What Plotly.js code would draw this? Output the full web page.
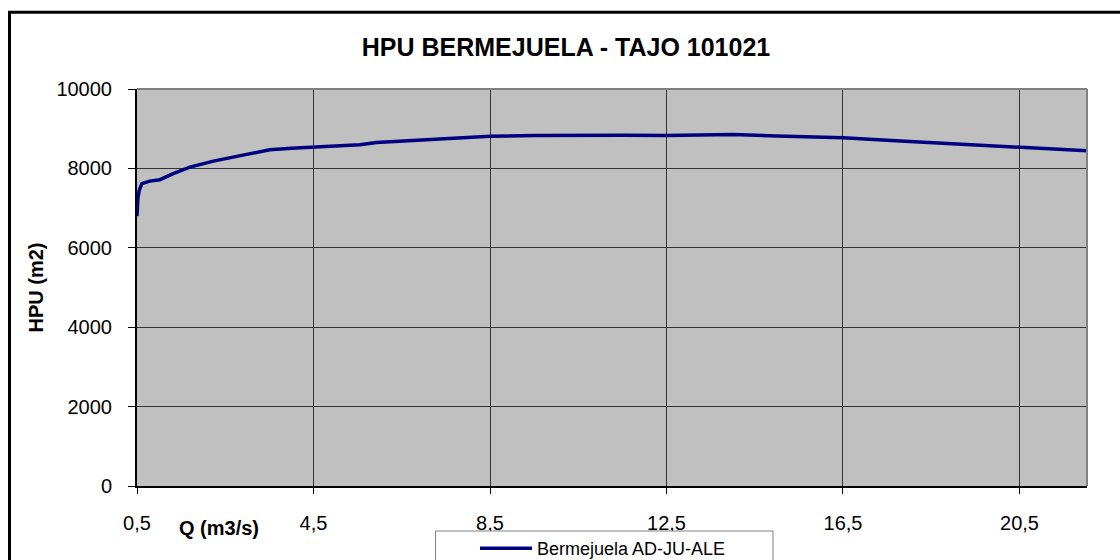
<!DOCTYPE html>
<html>
<head>
<meta charset="utf-8">
<script src="https://cdn.plot.ly/plotly-3.0.1.min.js"></script>
<style>
html,body{margin:0;padding:0;background:#fff;}
#chart{width:1120px;height:560px;}
</style>
</head>
<body>
<div id="chart"></div>
<script>
// Data
const seriesName = "Bermejuela AD-JU-ALE";
const caudal = [0.5, 0.52, 0.55, 0.61, 0.79, 1.02, 1.32, 1.7, 2.23, 2.98, 3.51, 4.0, 4.5, 5.25, 5.55, 5.93, 6.53, 7.51, 8.5, 9.5, 10.5, 11.5, 12.5, 13.5, 14.0, 15.0, 16.5, 17.8, 19.0, 20.5, 22.03];
const hpu = [6800, 7250, 7446, 7615, 7680, 7715, 7866, 8033, 8184, 8352, 8470, 8510, 8536, 8561, 8596, 8654, 8687, 8762, 8810, 8830, 8838, 8835, 8830, 8845, 8855, 8815, 8772, 8690, 8620, 8550, 8445];
const xTickVals = [0.5, 4.5, 8.5, 12.5, 16.5, 20.5];
const xTickText = ["0,5", "4,5", "8,5", "12,5", "16,5", "20,5"];
const yTickVals = [0, 2000, 4000, 6000, 8000, 10000];
const yTickText = ["0", "2000", "4000", "6000", "8000", "10000"];

const FONT = "Liberation Sans, Arial, sans-serif";

const trace = {
  x: caudal, y: hpu, type: "scatter", mode: "lines", name: seriesName,
  line: {color: "#000080", width: 3.5}
};

// pixel -> paper helpers (plot area 137..1087 x, 89..486 y)
const px = v => (v - 137) / 950;
const py = v => (486 - v) / 397;

const layout = {
  width: 1120, height: 560,
  margin: {l: 137, r: 33, t: 89, b: 74, autoexpand: false},
  paper_bgcolor: "#ffffff",
  plot_bgcolor: "#C0C0C0",
  font: {family: FONT, color: "#000"},
  title: {
    text: "<b>HPU BERMEJUELA - TAJO 101021</b>",
    font: {family: FONT, size: 25, color: "#000"},
    xref: "paper", x: px(566), xanchor: "center",
    yref: "container", y: 1 - 47 / 560, yanchor: "middle"
  },
  xaxis: {
    range: [0.5, 22.03], tickmode: "array", tickvals: xTickVals, ticktext: xTickText,
    ticks: "outside", ticklen: 6, tickcolor: "#000", tickwidth: 1,
    tickfont: {family: FONT, size: 20, color: "#000"},
    ticklabelstandoff: 12,
    showgrid: true, gridcolor: "#333333", gridwidth: 1,
    showline: true, linecolor: "#000", linewidth: 2,
    zeroline: false, fixedrange: true
  },
  yaxis: {
    range: [0, 10000], tickmode: "array", tickvals: yTickVals, ticktext: yTickText,
    ticks: "outside", ticklen: 7, tickcolor: "#000", tickwidth: 1,
    tickfont: {family: FONT, size: 20, color: "#000"},
    ticklabelstandoff: 12,
    showgrid: true, gridcolor: "#333333", gridwidth: 1,
    showline: true, linecolor: "#000", linewidth: 2,
    zeroline: false, fixedrange: true,
    title: {text: "<b>HPU (m2)</b>", font: {family: FONT, size: 20, color: "#000"}, standoff: 7}
  },
  showlegend: true,
  legend: {
    x: px(475), xanchor: "left", y: py(530), yanchor: "top",
    bgcolor: "rgba(0,0,0,0)", borderwidth: 0,
    font: {family: FONT, size: 18, color: "#000"},
    itemwidth: 52
  },
  annotations: [
    {text: "<b>Q (m3/s)</b>", xref: "paper", yref: "paper",
     x: px(218.7), y: py(528), xanchor: "center", yanchor: "middle",
     showarrow: false, font: {family: FONT, size: 20, color: "#000"}}
  ],
  shapes: [
    // plot area top and right border (gray)
    {type: "line", xref: "paper", yref: "paper", x0: 0, x1: 1, y0: 1, y1: 1, line: {color: "#808080", width: 2}},
    {type: "line", xref: "paper", yref: "paper", x0: 1, x1: 1, y0: 0, y1: 1, line: {color: "#808080", width: 2}},
    // legend frame
    {type: "rect", xref: "paper", yref: "paper",
     x0: px(435.5), x1: px(773), y0: py(580), y1: py(531),
     line: {color: "#808080", width: 1}, fillcolor: "#ffffff", layer: "above"},
    // outer chart frame
    {type: "rect", xref: "paper", yref: "paper",
     x0: px(9.5), x1: px(1150), y0: py(590), y1: py(12.3),
     line: {color: "#000", width: 3}, fillcolor: "rgba(0,0,0,0)", layer: "above"}
  ]
};

Plotly.newPlot("chart", [trace], layout, {displayModeBar: false, staticPlot: true});
</script>
</body>
</html>
